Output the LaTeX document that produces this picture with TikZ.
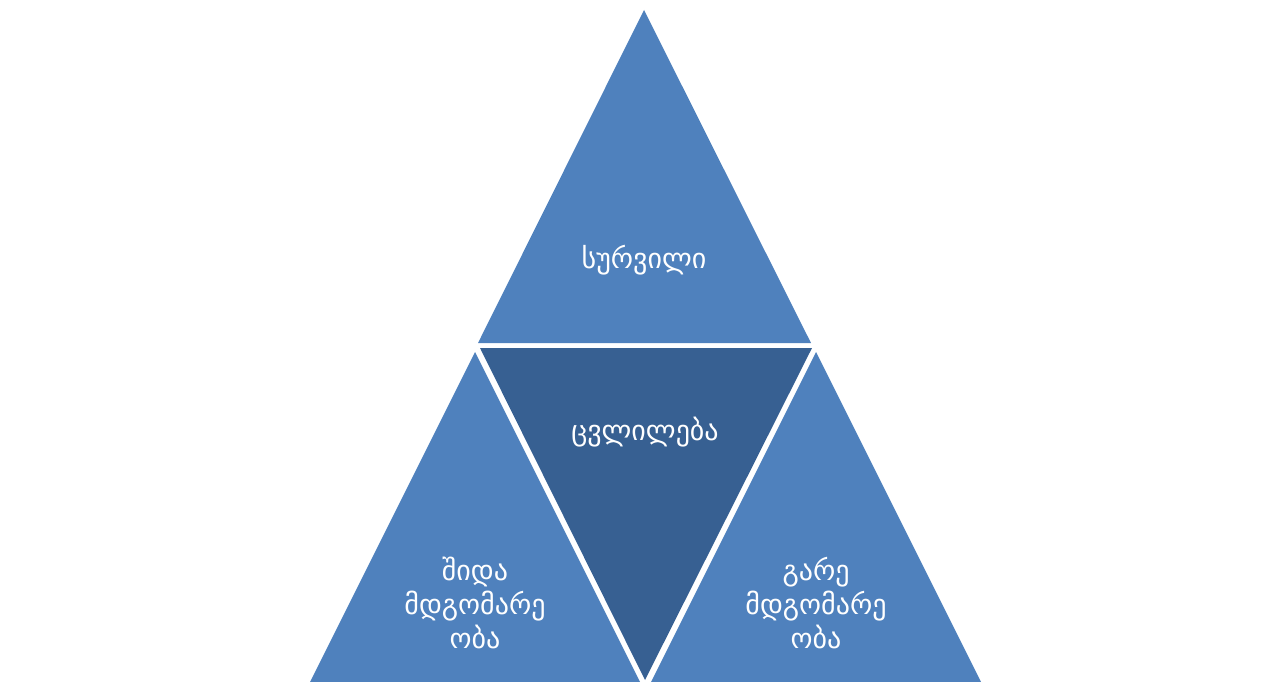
\documentclass[tikz,border=0pt]{standalone}
\usepackage{fontspec}
\setmainfont{DejaVu Sans}
\usepackage{tikz}
\definecolor{triblue}{HTML}{4F81BD}
\definecolor{tridark}{HTML}{376092}
\tikzset{
    lbl/.style={text=white, font=\fontsize{28}{34}\selectfont, align=center}
}

\begin{document}
\begin{tikzpicture}[x=1pt,y=-1pt]
        \useasboundingbox (0,0) rectangle (1284,682);
        % top
        \fill[triblue] (644,10) -- (811,343) -- (478,343) -- cycle;
        % middle
        \fill[tridark] (480,348) -- (812,348) -- (645,680) -- cycle;
        % bottom left
        \fill[triblue] (475,352) -- (640,682) -- (310,682) -- cycle;
        % bottom right
        \fill[triblue] (816,352) -- (981,682) -- (651,682) -- cycle;

        \node[lbl] (wish) at (644,260) {სურვილი};
        \node[lbl] (change) at (645,432) {ცვლილება};
        \node[lbl] (inner) at (475,603) {შიდა\\მდგომარე\\ობა};
        \node[lbl] (outer) at (816,603) {გარე\\მდგომარე\\ობა};
    \end{tikzpicture}
\end{document}
